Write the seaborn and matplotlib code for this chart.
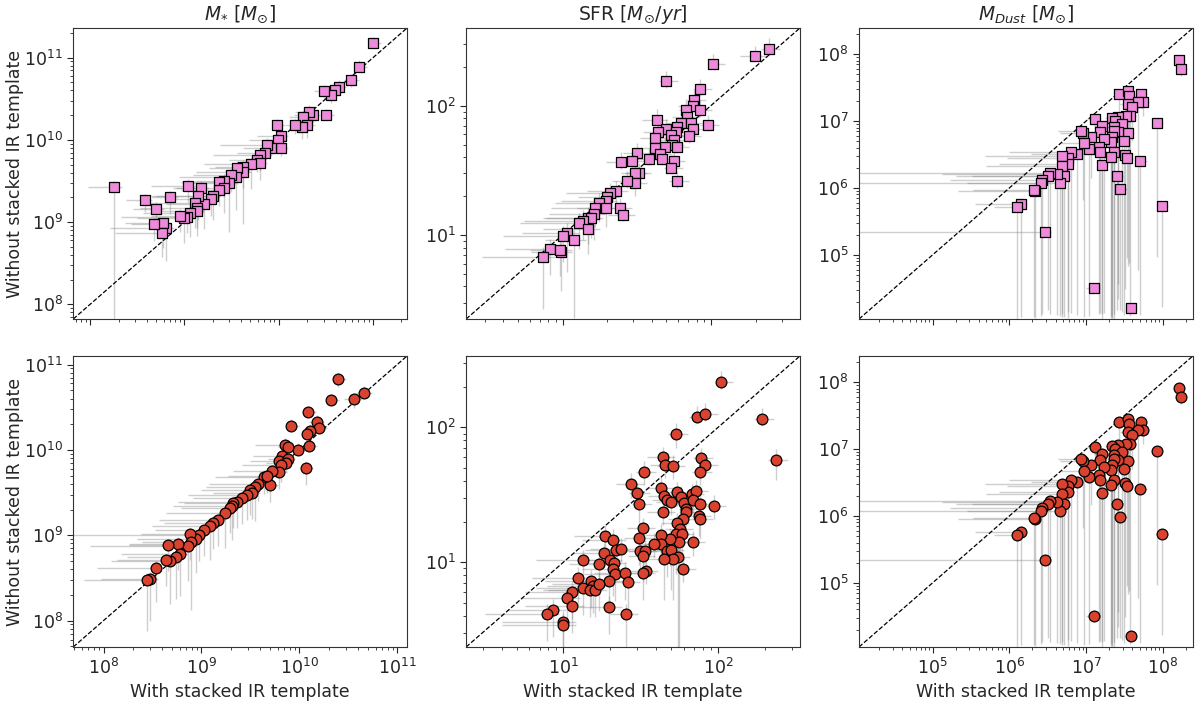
import numpy as np
import pandas as pd
import seaborn as sns
import matplotlib
matplotlib.use("Agg")
import matplotlib.pyplot as plt


# ---- stellar mass, top row (with / without stacked IR template) ----
mstar_top_with = [1.0e11, 7.1e10, 5.9e10, 4.3e10, 3.9e10, 3.6e10, 3.0e10, 3.2e10, 2.3e10, 2.1e10,
                  1.8e10, 2.0e10, 1.76e10, 1.5e10, 9.6e9, 1.05e10, 9.7e9, 1.05e10, 8.3e9, 7.5e9,
                  7.2e9, 6.3e9, 5.9e9, 6.3e9, 5.1e9, 4.2e9, 4.2e9, 3.6e9, 3.5e9, 3.1e9,
                  2.96e9, 2.6e9, 2.3e9, 2.6e9, 2.3e9, 2.0e9, 1.9e9, 1.6e9, 1.5e9, 1.4e9,
                  1.3e9, 1.36e9, 1.35e9, 1.1e9, 1.15e9, 1.07e9, 1.0e9, 8.9e8, 7.1e8, 6.4e8,
                  5.9e8, 5.8e8, 4.8e8, 5.0e8, 3.8e8, 1.8e8]
mstar_top_without = [1.5e11, 7.8e10, 5.3e10, 4.4e10, 4.0e10, 3.5e10, 3.9e10, 2.0e10, 2.0e10, 2.2e10,
                     1.9e10, 1.5e10, 1.45e10, 1.5e10, 1.5e10, 1.1e10, 1.0e10, 7.9e9, 7.9e9, 8.7e9,
                     6.9e9, 6.6e9, 5.7e9, 5.2e9, 5.1e9, 4.7e9, 4.1e9, 4.6e9, 3.5e9, 3.7e9,
                     3.0e9, 3.2e9, 3.1e9, 2.6e9, 2.45e9, 2.1e9, 1.9e9, 1.65e9, 2.6e9, 2.1e9,
                     1.7e9, 1.5e9, 1.35e9, 2.75e9, 1.3e9, 1.16e9, 1.12e9, 1.2e9, 2.0e9, 8.5e8,
                     9.7e8, 7.4e8, 9.4e8, 1.45e9, 1.85e9, 2.65e9]
# lower error bars in dex
mstar_top_xlo = [.05, .05, .08, .1, .1, .1, .1, .05, .2, .15,
                 .15, .1, .1, .1, .05, .25, .3, .1, .3, .5,
                 .3, .5, .3, .2, .5, .3, .5, .3, .6, .4,
                 .5, .3, .4, .5, .4, .6, .5, .4, .3, .5,
                 .5, .6, .4, .4, .5, .7, .5, .3, .2, .6,
                 .4, .5, .25, .25, .2, .28]
mstar_top_ylo = [.05, .05, .08, .1, .1, .1, .1, .05, .1, .1,
                 .1, .15, .15, .1, .05, .15, .1, .1, .1, .1,
                 .15, .2, .15, .2, .3, .7, .2, .2, .4, .2,
                 .6, .2, .2, .3, .2, .3, .2, .3, .2, .3,
                 .3, .25, .3, .2, .3, .2, .3, .2, .2, .4,
                 .3, .3, .2, .15, .15, 1.6]

# ---- stellar mass, bottom row ----
mstar_bot_with = [2.5e10, 4.6e10, 3.6e10, 2.1e10, 1.24e10, 1.5e10, 1.6e10, 1.3e10, 1.2e10, 8.3e9,
                  1.26e10, 9.6e9, 1.16e10, 7.1e9, 7.7e9, 6.7e9, 6.2e9, 7.6e9, 7.3e9, 6.5e9,
                  6.2e9, 5.3e9, 5.0e9, 4.4e9, 4.7e9, 3.8e9, 3.5e9, 3.1e9, 3.3e9, 2.9e9,
                  2.6e9, 2.3e9, 2.1e9, 2.05e9, 1.95e9, 1.75e9, 1.46e9, 1.3e9, 1.23e9, 1.07e9,
                  9.5e8, 8.7e8, 7.7e8, 7.9e8, 7.3e8, 5.8e8, 6.0e8, 5.5e8, 4.6e8, 4.8e8,
                  4.3e8, 3.4e8, 3.0e8, 2.8e8]
mstar_bot_without = [6.8e10, 4.7e10, 3.9e10, 3.8e10, 2.75e10, 2.15e10, 1.8e10, 1.65e10, 1.55e10, 1.9e10,
                     1.1e10, 1.0e10, 6.1e9, 1.15e10, 1.08e10, 8.4e9, 7.4e9, 7.8e9, 7.0e9, 6.7e9,
                     5.5e9, 5.6e9, 3.9e9, 4.8e9, 5.0e9, 4.0e9, 3.7e9, 3.4e9, 3.1e9, 3.0e9,
                     2.7e9, 2.45e9, 2.4e9, 2.2e9, 2.1e9, 1.8e9, 1.5e9, 1.38e9, 1.28e9, 1.14e9,
                     1.0e9, 9.1e8, 1.02e9, 8.3e8, 7.4e8, 7.9e8, 6.1e8, 5.6e8, 7.6e8, 5.0e8,
                     5.1e8, 4.1e8, 3.1e8, 3.0e8]
mstar_bot_xlo = [.05, .08, .1, .05, .05, .08, .05, .05, .05, .05,
                 .05, .05, .05, .3, .1, .3, .3, .2, .2, .4,
                 .2, .4, .2, .5, .4, .5, .5, .5, .4, .6,
                 .5, .6, .5, .6, .5, .6, .6, .5, .6, .5,
                 1.3, .6, .5, .5, 1.0, .5, .6, .5, .4, .6,
                 .5, .6, .5, .65]
mstar_bot_ylo = [.1, .05, .1, .05, .05, .05, .05, .05, .05, .05,
                 .05, .05, .2, .1, .1, .1, .1, .1, .1, .2,
                 .2, .2, .2, .2, .2, .2, .4, .3, .3, .3,
                 .3, .3, .3, .4, .3, .4, .3, .3, .4, .3,
                 .3, .4, .3, .8, .4, .3, .5, .5, .3, .5,
                 .3, .4, .5, .6]

# ---- SFR, top row ----
sfr_top_with = [245, 197, 104, 50, 85, 77, 76, 85, 68, 69,
                63, 74, 76, 95, 71, 43, 50, 44, 42, 59,
                58, 54, 56, 55, 59, 49, 42, 45.6, 47, 38,
                56, 54, 59, 32, 29.6, 24.6, 33, 31, 31, 27,
                23, 21, 20, 19.5, 17.7, 19.7, 16.6, 16.2, 24.5, 25.6,
                14.8, 15.5, 13.8, 12.9, 14.8, 10.7, 10, 12, 8.2, 9.7,
                9.6, 7.4]
sfr_top_without = [275, 241, 210, 154, 134, 110, 100, 92, 93, 81,
                   74, 73, 66, 71, 58, 78, 66, 63, 56, 68,
                   62, 59, 54, 50, 48, 48, 47, 42, 39, 39,
                   37, 33, 26, 43, 37, 36.5, 30, 30, 25.4, 26,
                   21.9, 21, 19.5, 18.3, 17.7, 16.2, 16.3, 14.6, 16.2, 14.3,
                   13.6, 13.5, 12.9, 12.3, 11.2, 10.3, 9.8, 9.1, 7.8, 7.4,
                   7.6, 6.7]
sfr_top_xlo = [.05, .1, .03, .05, .05, .05, .1, .05, .05, .1,
               .1, .05, .05, .05, .1, .1, .05, .1, .1, .05,
               .05, .1, .1, .05, .05, .1, .1, .1, .05, .1,
               .05, .05, .05, .1, .1, .1, .1, .1, .1, .1,
               .2, .3, .2, .3, .3, .2, .3, .3, .1, .1,
               .3, .3, .4, .4, .3, .3, .4, .2, .3, .2,
               .2, .41]
sfr_top_ylo = [.05, .03, .03, .05, .05, .05, .05, .05, .05, .05,
               .05, .05, .05, .05, .05, .05, .05, .05, .05, .05,
               .05, .05, .05, .05, .05, .05, .05, .05, .05, .05,
               .05, .05, .05, .1, .05, .05, .05, .1, .1, .05,
               .1, .1, .1, .1, .15, .15, .15, .2, .05, .05,
               .2, .15, .15, .2, .2, .3, .2, .6, .2, .3,
               .2, .4]

# ---- SFR, bottom row ----
sfr_bot_with = [104, 193, 237, 72.6, 83, 53.5, 44, 45.7, 51, 77.6,
                83, 76, 33, 27.5, 30, 31, 43, 44.6, 46.8, 50,
                44, 54, 57.6, 60, 62.4, 62.4, 68, 72, 68.4, 76,
                94, 75, 77, 59.5, 54, 57, 53.8, 58.5, 55.6, 69,
                49, 42.6, 42.6, 38.5, 46.8, 50, 55, 51, 44.6, 59.5,
                32.5, 31, 31.3, 33.6, 32.7, 34, 32.7, 18.6, 21, 22,
                23.7, 18.2, 20, 21.1, 20.8, 21.6, 19.8, 17.1, 13.3, 25,
                26, 12.5, 13.3, 15.1, 15.5, 14.8, 15.9, 16.9, 11.3, 10.6,
                11.3, 19.8, 25.3, 8.6, 7.8, 10, 10]
sfr_bot_without = [218, 115, 57.5, 120, 126, 89, 60, 53, 52, 59,
                   53, 46.7, 47, 38, 32.4, 27, 35.6, 31, 29, 28,
                   23.7, 33, 30.5, 27.6, 25, 23.5, 31.8, 33.8, 28.8, 27,
                   26.3, 22, 21, 21, 19.4, 17.6, 16.2, 16.2, 14, 14.1,
                   14.8, 15.9, 13.6, 13.6, 12.2, 12.4, 11, 10.5, 10.5, 8.9,
                   17.8, 15.1, 12, 12.2, 11.2, 8.6, 8.3, 15.7, 14.6, 12.4,
                   12.6, 11.6, 10.4, 9.9, 8.9, 8.2, 7.3, 9.7, 10.3, 8.3,
                   7.1, 7.6, 6.45, 7.3, 6.6, 6.2, 6.2, 6.9, 6.0, 5.4,
                   4.7, 4.65, 4.1, 4.4, 4.1, 3.6, 3.4]
sfr_bot_xlo = [.03, .05, .05, .05, .05, .05, .1, .1, .1, .05,
               .05, .05, .05, .1, .05, .05, .1, .1, .1, .1,
               .1, .05, .05, .05, .05, .05, .05, .05, .05, .05,
               .05, .05, .05, .1, .1, .1, .1, .1, .1, .1,
               .1, .1, .1, .1, .1, .1, .1, .1, .1, .05,
               .1, .1, .1, .1, .1, .1, .1, .2, .2, .2,
               .2, .2, .2, .2, .2, .2, .2, .2, .3, .2,
               .1, .3, .3, .3, .3, .3, .3, .3, .3, .3,
               .3, .2, .1, .3, .4, .4, .4]
sfr_bot_ylo = [.05, .05, .15, .05, .05, .1, .05, .1, .1, .15,
               .05, .1, .1, .1, .1, .2, .1, .1, .1, .1,
               .1, .1, .1, .1, .1, .1, .1, .1, .1, .1,
               .1, .15, .15, .15, .2, .2, .3, .2, .8, .1,
               .2, .2, .1, .1, .2, .3, 1.0, .3, .3, .1,
               .1, .2, .2, .1, .2, .1, .2, .1, .1, .1,
               .1, .1, .2, .1, .2, .2, .2, .2, .2, .2,
               .2, .2, .2, .2, .2, .2, .2, .2, .2, .2,
               .2, .2, .4, .2, .2, .3, .3]

# ---- dust mass (same in both rows) ----
mdust_with = [1.6e8, 1.7e8, 8.3e7, 9.6e7, 5.1e7, 3.8e7, 1.27e7, 2.9e6, 2.8e7, 2.5e7,
              1.6e7, 2.7e7, 3.5e7, 3.6e7, 5.2e7, 5.5e7, 4.8e7, 3.5e7, 4.0e7, 3.7e7,
              3.3e7, 2.6e7, 2.2e7, 2.4e7, 2.9e7, 2.3e7, 3.5e7, 2.6e7, 2.3e7, 2.2e7,
              3.1e7, 2.1e7, 2.3e7, 2.1e7, 3.2e7, 3.4e7, 1.3e7, 1.6e7, 1.5e7, 1.7e7,
              1.45e7, 1.5e7, 1.15e7, 1.1e7, 9.2e6, 8.5e6, 9.4e6, 7.5e6, 6.3e6, 5.8e6,
              5.8e6, 4.8e6, 4.9e6, 5.2e6, 4.5e6, 4.2e6, 3.4e6, 3.2e6, 2.7e6, 2.6e6,
              2.15e6, 2.1e6, 1.4e6, 1.27e6]
mdust_without = [8.2e7, 6.0e7, 9.2e6, 5.3e5, 2.5e6, 1.6e4, 3.2e4, 2.2e5, 9.6e5, 1.5e6,
                 2.2e6, 2.5e7, 2.8e7, 2.35e7, 2.5e7, 1.9e7, 1.9e7, 1.8e7, 1.6e7, 1.2e7,
                 1.2e7, 1.15e7, 1.1e7, 1.0e7, 8.9e6, 8.2e6, 6.7e6, 6.8e6, 7.1e6, 5.8e6,
                 5.1e6, 4.8e6, 3.5e6, 2.9e6, 3.1e6, 2.8e6, 1.06e7, 8.3e6, 6.8e6, 5.4e6,
                 4.1e6, 3.4e6, 5.7e6, 3.8e6, 6.6e6, 7.1e6, 4.7e6, 3.2e6, 3.4e6, 2.8e6,
                 2.3e6, 3.0e6, 2.1e6, 1.5e6, 1.2e6, 1.6e6, 1.65e6, 1.5e6, 1.3e6, 1.2e6,
                 9.1e5, 9.4e5, 5.8e5, 5.1e5]
mdust_xlo = [.03, .03, .05, .03, .05, .05, .1, 2.5, .05, .05,
             .05, .05, .05, .05, .05, .05, .05, .1, .1, .1,
             .1, .1, .1, .1, .1, .1, .1, .1, .1, .1,
             .1, .1, .1, .1, .1, .1, .1, .1, .1, .1,
             .1, .1, .15, .15, .3, .3, .3, .6, .8, .8,
             .9, 1.0, 1.0, 1.2, 1.2, 1.5, 3.0, 1.2, 1.2, 3.0,
             1.0, .8, .6, .3]
mdust_ylo = [.1, .1, 2.0, 1.5, 2.3, .05, .05, .05, 1.8, 2.0,
             2.3, .3, .2, 2.5, .2, .2, 2.5, .5, .5, 3.0,
             .5, 2.5, 3.0, .6, 2.8, 2.8, 2.0, 2.5, .5, 2.7,
             2.6, 2.6, 2.5, 2.4, 2.0, 1.5, .3, 2.8, .5, 2.6,
             2.5, 2.4, .6, 2.5, 1.0, .3, 2.6, 2.4, 2.4, 2.3,
             2.3, 2.4, 2.2, 2.1, 2.0, 2.1, 2.1, 2.0, 2.0, 2.0,
             1.9, 1.9, 1.7, 1.7]

titles = [r"$M_{*}$ $[M_{\odot}]$", r"SFR $[M_{\odot}/yr]$", r"$M_{Dust}$ $[M_{\odot}]$"]
xlabel = "With stacked IR template"
ylabel = "Without stacked IR template"


def make_df(x, y, xlo, ylo):
    df = pd.DataFrame({"with": x, "without": y, "xlo": xlo, "ylo": ylo})
    return df


def plot_panel(ax, df, lims, marker, color):
    up = 0.08  # small upper error in dex
    xerr = [df["with"] - df["with"] / 10 ** df["xlo"], df["with"] * (10 ** up - 1)]
    yerr = [df["without"] - df["without"] / 10 ** df["ylo"], df["without"] * (10 ** up - 1)]
    ax.errorbar(df["with"], df["without"], xerr=xerr, yerr=yerr, fmt="none",
                ecolor="gray", elinewidth=1.0, alpha=0.38, zorder=1)
    sns.scatterplot(data=df, x="with", y="without", ax=ax, marker=marker, color=color,
                    edgecolor="black", linewidth=0.9, s=60, zorder=3, legend=False)
    ax.plot(lims, lims, ls="--", color="black", lw=0.9, zorder=2)
    ax.set_xscale("log")
    ax.set_yscale("log")
    ax.set_xlim(lims)
    ax.set_ylim(lims)
    ax.set_xlabel("")
    ax.set_ylabel("")
    return ax


def main():
    sns.set_style("ticks")
    plt.rcParams["font.family"] = ["DejaVu Sans"]
    plt.rcParams["mathtext.fontset"] = "dejavusans"

    fig, axes = plt.subplots(2, 3, figsize=(12, 7.01), dpi=100)
    fig.subplots_adjust(left=0.061, right=0.994, bottom=0.077, top=0.96,
                        wspace=0.177, hspace=0.127)

    pink = "#ee8ada"
    red = "#d8422f"
    panels = [
        (axes[0, 0], make_df(mstar_top_with, mstar_top_without, mstar_top_xlo, mstar_top_ylo),
         (10 ** 7.82, 10 ** 11.36), "s", pink),
        (axes[0, 1], make_df(sfr_top_with, sfr_top_without, sfr_top_xlo, sfr_top_ylo),
         (10 ** 0.35, 10 ** 2.60), "s", pink),
        (axes[0, 2], make_df(mdust_with, mdust_without, mdust_xlo, mdust_ylo),
         (10 ** 4.04, 10 ** 8.39), "s", pink),
        (axes[1, 0], make_df(mstar_bot_with, mstar_bot_without, mstar_bot_xlo, mstar_bot_ylo),
         (10 ** 7.69, 10 ** 11.1), "o", red),
        (axes[1, 1], make_df(sfr_bot_with, sfr_bot_without, sfr_bot_xlo, sfr_bot_ylo),
         (10 ** 0.37, 10 ** 2.53), "o", red),
        (axes[1, 2], make_df(mdust_with, mdust_without, mdust_xlo, mdust_ylo),
         (10 ** 4.04, 10 ** 8.39), "o", red),
    ]
    for ax, df, lims, marker, color in panels:
        plot_panel(ax, df, lims, marker, color)
        ax.tick_params(axis="both", which="major", labelsize=12.5, length=4)
        ax.tick_params(axis="both", which="minor", length=2)
        for sp in ax.spines.values():
            sp.set_color("#333333")

    for j in range(3):
        axes[0, j].set_title(titles[j], fontsize=13.5)
        axes[0, j].tick_params(axis="x", which="both", labelbottom=False)
        axes[1, j].set_xlabel(xlabel, fontsize=12.5)
    for i in range(2):
        axes[i, 0].set_ylabel(ylabel, fontsize=12.5, labelpad=0)

    plt.savefig("out.png", dpi=100)


if __name__ == "__main__":
    main()
